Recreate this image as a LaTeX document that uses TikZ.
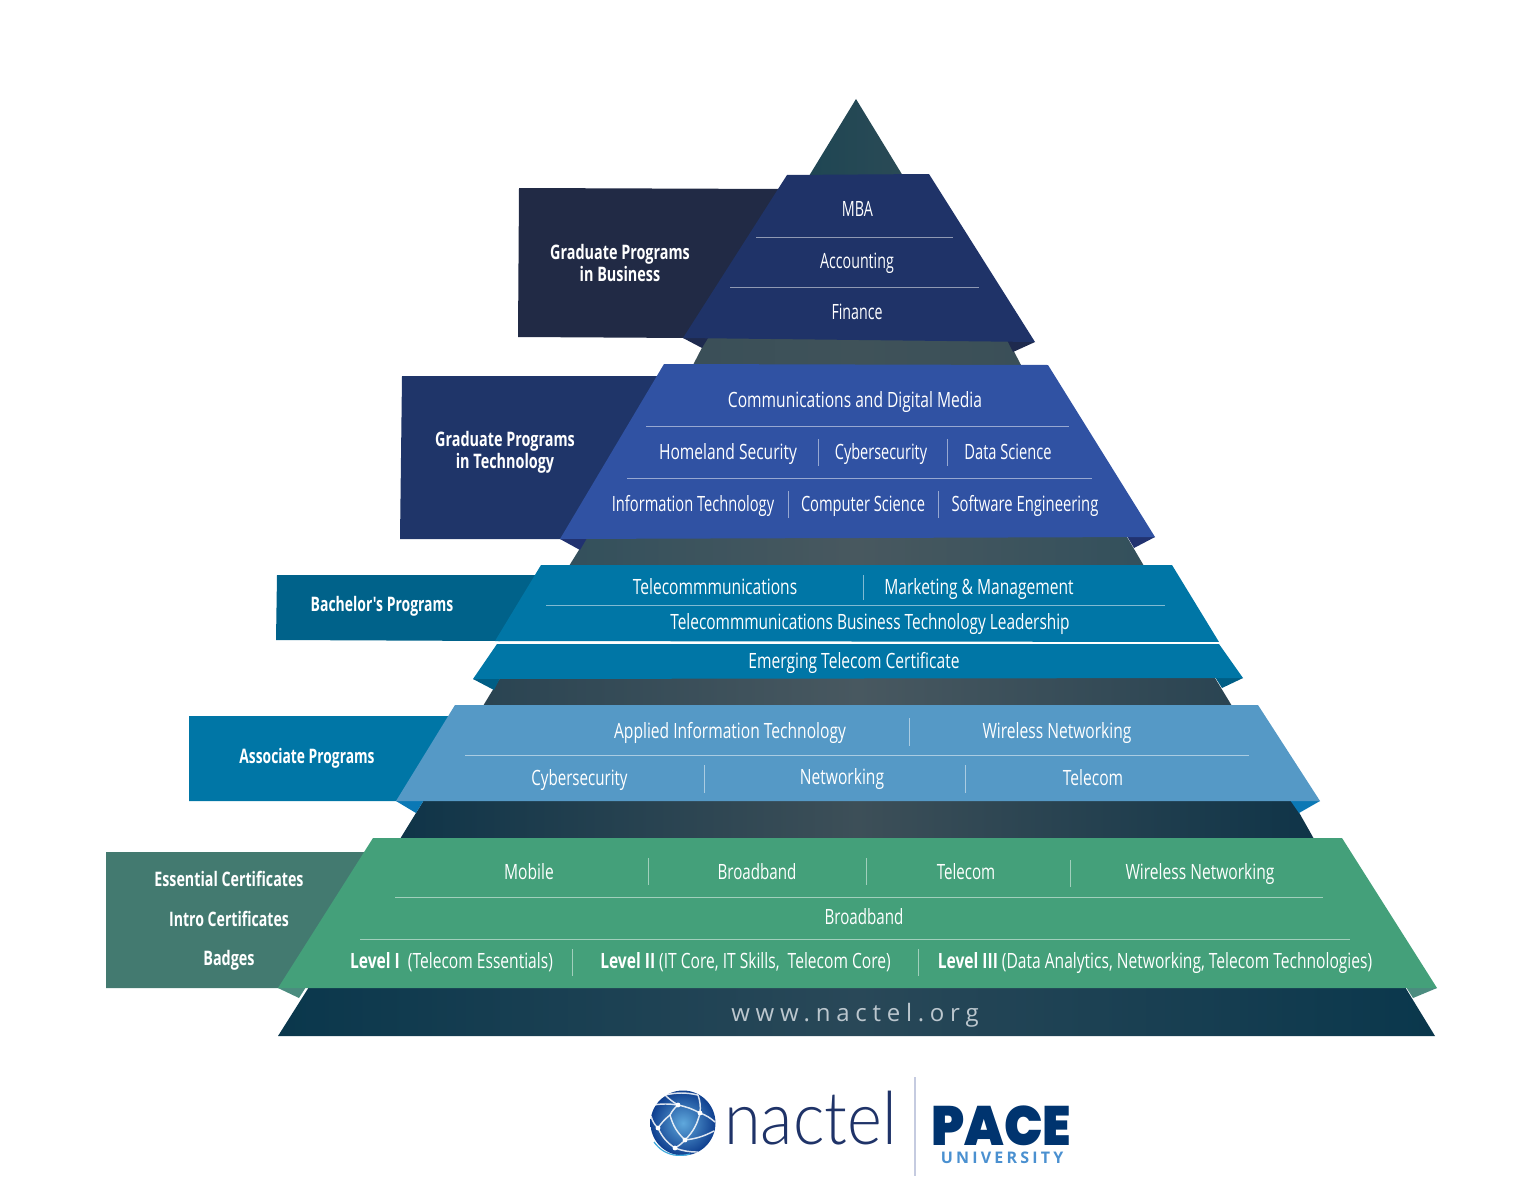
\documentclass[tikz,border=0pt]{standalone}
\usepackage{fontspec}
\setmainfont{Open Sans}[FakeStretch=0.74]
\newfontfamily\labelfont{Open Sans}[FakeStretch=0.72]
\newfontfamily\wwwfont{Open Sans}[LetterSpace=24]
\newfontfamily\logofont{Lato Light}
\newfontfamily\pacefont{Poppins}[UprightFont=* Black]
\newfontfamily\unifont{Open Sans}[LetterSpace=20]
\newcommand{\nrw}[2]{\scalebox{#1}[1]{#2}}
\definecolor{gbiz}{HTML}{1F3368}
\definecolor{gbizlab}{HTML}{212A45}
\definecolor{gbizfold}{HTML}{1E2A4E}
\definecolor{gtech}{HTML}{3052A3}
\definecolor{gtechlab}{HTML}{1F3569}
\definecolor{gtechfold}{HTML}{213270}
\definecolor{bach}{HTML}{0076A6}
\definecolor{bachlab}{HTML}{00628A}
\definecolor{bachfold}{HTML}{005E85}
\definecolor{assoc}{HTML}{5599C6}
\definecolor{assocfold}{HTML}{0B78B5}
\definecolor{green}{HTML}{44A07A}
\definecolor{greenlab}{HTML}{437A70}
\definecolor{greenfold}{HTML}{4B8C7F}
\definecolor{pacecol}{HTML}{00346F}
\definecolor{unicol}{HTML}{4A90D0}
\definecolor{nacol}{HTML}{1F3368}
\definecolor{apexl}{HTML}{1F4654}
\definecolor{apexr}{HTML}{2A4A55}
\definecolor{gapaout}{HTML}{3A4F58}
\definecolor{gapamid}{HTML}{3F5259}
\definecolor{gapbout}{HTML}{33505C}
\definecolor{gapbmid}{HTML}{48585F}
\definecolor{gapcout}{HTML}{2A4452}
\definecolor{gapcmid}{HTML}{485860}
\definecolor{gapdout}{HTML}{0F3448}
\definecolor{gapdmid}{HTML}{3D4F58}
\definecolor{baseout}{HTML}{0A374C}
\definecolor{basemid}{HTML}{294858}
\definecolor{globein}{HTML}{5FA8DC}
\definecolor{globeout}{HTML}{0F3F8F}
\definecolor{divcol}{HTML}{C5CBE0}
\definecolor{wwwcol}{HTML}{BCC7CE}
\definecolor{cyanarc}{HTML}{3FA9DC}
\tikzset{
  txt/.style={text=white,inner sep=0pt,text height=11.6pt,text depth=3pt,font=\fontsize{15.8}{17}\selectfont},
  bold/.style={text=white,inner sep=0pt,font=\labelfont\fontsize{15}{17}\selectfont\bfseries,align=center},
  boldline/.style={bold,text height=11.6pt,text depth=3pt},
  rule/.style={white,opacity=.5,line width=.6pt},
  vrule/.style={white,opacity=.5,line width=.6pt},
  net/.style={white,opacity=.85,line width=1.1pt},
}
\begin{document}
\begin{tikzpicture}[x=.75pt,y=-.75pt]
\useasboundingbox (0,0) rectangle (1537,1184);
% dark pyramid segments
\shade[left color=apexl,right color=apexr] (856,99) -- (809,176) -- (903,176) -- cycle;
\shade[left color=gapaout,right color=gapaout,middle color=gapamid] (707,338) -- (1007,338) -- (1021,365) -- (693,365) -- cycle;
\shade[left color=gapbout,right color=gapbout,middle color=gapbmid] (587,537) -- (1127,537) -- (1144,566) -- (569,566) -- cycle;
\shade[left color=gapcout,right color=gapcout,middle color=gapcmid] (500,678) -- (1215,678) -- (1232,706) -- (483,706) -- cycle;
\shade[left color=gapdout,right color=gapdout,middle color=gapdmid] (424,800) -- (1292,800) -- (1314,839) -- (400,839) -- cycle;
\shade[left color=baseout,right color=baseout,middle color=basemid] (309,987) -- (1405,987) -- (1435,1036) -- (278,1036) -- cycle;
% label boxes
\fill[gbizlab] (519,188) -- (785,189) -- (690,338) -- (518,337) -- cycle;
\fill[gtechlab] (402,376) -- (670,376) -- (565,539) -- (400,539) -- cycle;
\fill[bachlab] (277,575) -- (545,575) -- (500,641) -- (276,640) -- cycle;
\fill[bach] (189,716) -- (460,716) -- (400,801) -- (189,801) -- cycle;
\fill[greenlab] (106,852) -- (370,852) -- (285,988) -- (106,988) -- cycle;
% folds
\fill[gbizfold] (683,338) -- (702,348) -- (708,338) -- cycle;
\fill[gbizfold] (1035,342) -- (1013,352) -- (1007,340) -- cycle;
\fill[gtechfold] (560,539) -- (580,550) -- (587,538) -- cycle;
\fill[gtechfold] (1155,537) -- (1134,548) -- (1127,536) -- cycle;
\fill[bachfold] (473,679) -- (494,690) -- (500,678) -- cycle;
\fill[bachfold] (1243,678) -- (1222,688) -- (1215,677) -- cycle;
\fill[assocfold] (396,801) -- (416,813) -- (424,800) -- cycle;
\fill[assocfold] (1320,801) -- (1299,813) -- (1290,800) -- cycle;
\fill[greenfold] (278,988) -- (299,998) -- (306,987) -- cycle;
\fill[greenfold] (1437,988) -- (1413,998) -- (1406,987) -- cycle;
% bands
\fill[gbiz] (787,175) -- (929,174) -- (1035,342) -- (683,338) -- cycle;
\fill[gtech] (664,364) -- (1048,365) -- (1155,537) -- (560,539) -- cycle;
\fill[bach] (541,565) -- (1172,565) -- (1219,642) -- (495,641) -- cycle;
\fill[bach] (497,644) -- (1219,644) -- (1243,678) -- (473,679) -- cycle;
\fill[assoc] (455,705) -- (1258,705) -- (1320,801) -- (396,801) -- cycle;
\fill[green] (373,838) -- (1342,838) -- (1437,988) -- (278,988) -- cycle;
\draw[white,line width=.8pt] (1193,643) -- (1220,643);
% rules
\draw[rule] (756,237) -- (953,237);
\draw[rule] (730,287) -- (979,287);
\draw[rule] (646,426) -- (1069,426);
\draw[rule] (627,478) -- (1092,478);
\draw[vrule] (818,439) -- (818,466);
\draw[vrule] (947,439) -- (947,466);
\draw[vrule] (788,491) -- (788,518);
\draw[vrule] (938,491) -- (938,518);
\draw[rule] (546,605) -- (1165,605);
\draw[vrule] (863,575) -- (863,600);
\draw[rule] (465,755) -- (1249,755);
\draw[vrule] (909,718) -- (909,746);
\draw[vrule] (704,765) -- (704,793);
\draw[vrule] (965,765) -- (965,793);
\draw[rule] (395,897) -- (1323,897);
\draw[rule] (360,939) -- (1350,939);
\draw[vrule] (648,858) -- (648,885);
\draw[vrule] (866,858) -- (866,885);
\draw[vrule] (1070,860) -- (1070,887);
\draw[vrule] (572,949) -- (572,976);
\draw[vrule] (918,949) -- (918,976);
% band texts
\node[txt] (mba) at (857.5,211) {\nrw{.92}{MBA}};
\node[txt] (acc) at (857,263) {\nrw{.91}{Accounting}};
\node[txt] (fin) at (857,314) {\nrw{.91}{Finance}};
\node[txt] (comm) at (855,402) {Communications and Digital Media};
\node[txt] (home) at (728,454) {Homeland Security};
\node[txt] (cyb) at (881,454) {\nrw{.93}{Cybersecurity}};
\node[txt] (data) at (1008,454) {\nrw{.94}{Data Science}};
\node[txt] (info) at (693,506) {\nrw{.94}{Information Technology}};
\node[txt] (comp) at (863,506) {\nrw{.94}{Computer Science}};
\node[txt] (soft) at (1025,506) {\nrw{.95}{Software Engineering}};
\node[txt] (tel) at (715,589) {Telecommmunications};
\node[txt] (mkt) at (979,589) {Marketing \& Management};
\node[txt] (tbt) at (870,624) {\nrw{.99}{Telecommmunications Business Technology Leadership}};
\node[txt] (emg) at (854,663) {Emerging Telecom Certificate};
\node[txt] (ait) at (730,733) {Applied Information Technology};
\node[txt] (wn) at (1057,733) {Wireless Networking};
\node[txt] (acy) at (579.5,780) {\nrw{.97}{Cybersecurity}};
\node[txt] (anet) at (842,779) {Networking};
\node[txt] (atel) at (1093,780) {Telecom};
\node[txt] (mob) at (529,874) {Mobile};
\node[txt] (bb) at (757,874) {\nrw{.97}{Broadband}};
\node[txt] (gtel) at (966,874) {\nrw{.97}{Telecom}};
\node[txt] (gwn) at (1200,874) {Wireless Networking};
\node[txt] (bb2) at (864,919) {\nrw{.97}{Broadband}};
\node[txt] (l1) at (451.5,963) {\textbf{Level I}\ \ (Telecom Essentials)};
\node[txt] (l2) at (745.5,963) {\textbf{Level II} (IT Core, IT Skills,\ \ Telecom Core)};
\node[txt] (l3) at (1155,963) {\textbf{Level III} (Data Analytics, Networking, Telecom Technologies)};
% label texts
\node[bold] (gb) at (620,263) {Graduate Programs\\[-1pt]in Business};
\node[bold] (gt) at (505,452.5) {Graduate Programs\\[-.5pt]in Technology};
\node[boldline] (bp) at (382,606) {\nrw{.97}{Bachelor's Programs}};
\node[boldline] (ap) at (307,758) {\nrw{.96}{Associate Programs}};
\node[boldline] (ec) at (229,880.5) {\nrw{.99}{Essential Certificates}};
\node[boldline] (ic) at (229,920.5) {\nrw{.98}{Intro Certificates}};
\node[boldline] (bd) at (229,959.5) {Badges};
\node[inner sep=0pt,text height=13pt,text depth=0pt,text=wwwcol,font=\wwwfont\fontsize{18}{22}\selectfont] (www) at (855,1013) {www.nactel.org};
% logo
\shade[inner color=globein,outer color=globeout] (683,1123) circle (32.5);
\coordinate (na) at (678,1105);
\coordinate (nb) at (700,1113);
\coordinate (nc) at (685,1140);
\coordinate (nd) at (675,1148);
\coordinate (ne) at (658,1128);
\coordinate (nf) at (665,1095);
\coordinate (ng) at (653,1105);
\coordinate (nh) at (715,1122);
\coordinate (ni) at (698,1095);
\coordinate (nj) at (714,1131);
\coordinate (nk) at (670,1115);
\draw[net] (ng) to[bend left=8] (na) to[bend left=8] (nb) to[bend left=10] (nh);
\draw[net] (nf) to[bend right=6] (na);
\draw[net] (nf) to[bend left=12] (ni);
\draw[net] (ni) to[bend left=12] (nb);
\draw[net] (ng) to[bend left=8] (nf);
\draw[net] (na) to[bend right=10] (nk) to[bend right=8] (ne) to[bend right=15] (nd);
\draw[net] (nk) to[bend right=15] (nc);
\draw[net] (nb) to[bend left=15] (nc) to[bend left=8] (nd);
\draw[net] (nc) to[bend right=10] (nj);
\draw[net] (ne) to[bend left=15] (651,1116);
\draw[net] (nd) to[bend right=10] (698,1152);
\draw[cyanarc,line width=.9pt] (654,1142) to[bend right=20] (674,1155) to[bend right=10] (690,1154);
\draw[net,line width=.6pt] (716,1116) to[bend left=25] (706,1148);
\foreach \p in {na,nb,nc,nd,ne}{\fill[white] (\p) circle (2.4);}
\node[anchor=base west,inner sep=0pt,text=nacol,font=\logofont\fontsize{51}{55}\selectfont] (nactel) at (724,1144) {\scalebox{.98}[1.08]{nactel}};
\draw[divcol,line width=.8pt] (915,1077) -- (915,1176);
\node[anchor=base,inner sep=0pt,text=pacecol,font=\pacefont\fontsize{40}{44}\selectfont] (pace) at (1001.5,1145) {\scalebox{.96}[1.04]{PACE}};
\node[inner sep=0pt,text=unicol,font=\unifont\fontsize{12}{14}\selectfont\bfseries] (uni) at (1002,1157.5) {UNIVERSITY};
\end{tikzpicture}
\end{document}
